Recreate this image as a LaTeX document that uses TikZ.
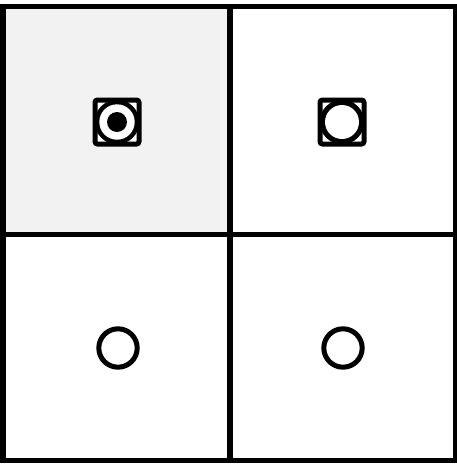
\documentclass[tikz,border=0pt]{standalone}
\begin{document}
\begin{tikzpicture}[x=1pt,y=-1pt,
  gridline/.style={line width=5.5pt, line cap=rect},
  ringicon/.style={line width=5pt, draw=black, fill=white},
  frameicon/.style={line width=5pt, draw=black, fill=white, rounded corners=2.5pt}]
\useasboundingbox (0,0) rectangle (457,464);
\fill[black!5] (3,6.5) rectangle (230,234.5);
% grid
\draw[gridline] (3,6.5) rectangle (456,460.5);
\draw[gridline] (230,6.5) -- (230,460.5);
\draw[gridline] (3,234.5) -- (456,234.5);
% top-left icon
\draw[frameicon] (95,100) rectangle (139,144);
\fill[black] (117,122) circle (22.3);
\fill[white] (117,122) circle (17.7);
\fill[black] (117,122) circle (10);
% top-right icon
\draw[frameicon] (320,100) rectangle (364,144);
\fill[black] (342,122) circle (22.3);
\fill[white] (342,122) circle (17);
% bottom circles
\draw[ringicon] (118,348) circle (19.2);
\draw[ringicon] (343,348) circle (19.2);
\end{tikzpicture}
\end{document}
